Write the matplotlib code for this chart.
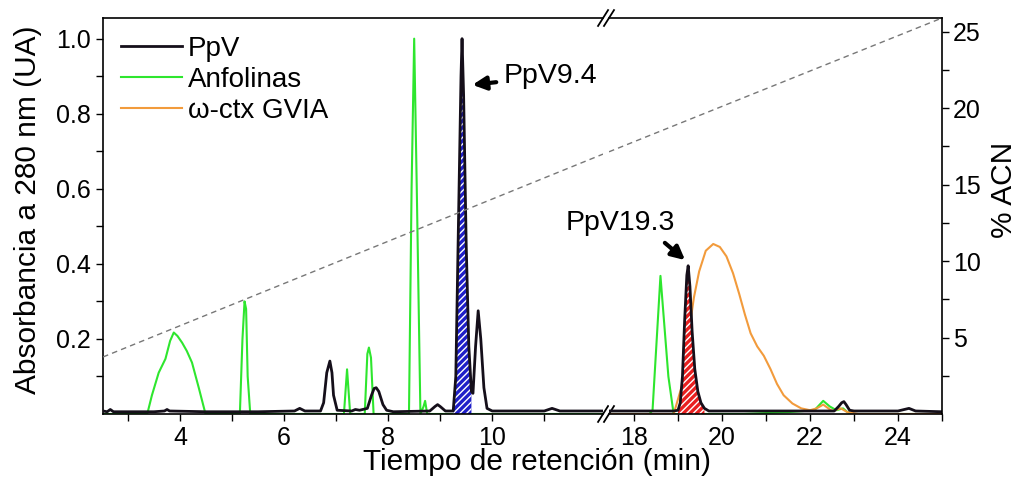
import numpy as np
import matplotlib
matplotlib.use("Agg")
import matplotlib.pyplot as plt
from matplotlib.ticker import FixedLocator

plt.rcParams['font.family'] = ['Liberation Sans', 'DejaVu Sans']

# PpV (tramo izquierdo y derecho del eje cortado)
ppv_t_izq = [2.52, 2.6, 2.66, 2.72, 2.8, 3.5, 3.7, 3.75, 3.8, 4.5, 5.5, 6.2, 6.3, 6.4, 6.7,
             6.76, 6.82, 6.88, 6.92, 6.95, 7.02, 7.3, 7.37, 7.45, 7.6, 7.68, 7.73, 7.77, 7.82,
             7.9, 7.97, 8.1, 8.8, 8.9, 8.95, 9.0, 9.1, 9.25, 9.3, 9.35, 9.4, 9.42, 9.45, 9.5,
             9.55, 9.6, 9.63, 9.68, 9.73, 9.78, 9.84, 9.9, 10.0, 11.0, 11.15, 11.3, 12.13]
ppv_a_izq = [0.008, 0.006, 0.012, 0.006, 0.006, 0.006, 0.008, 0.012, 0.008, 0.006, 0.006, 0.008, 0.015, 0.008, 0.008,
             0.03, 0.11, 0.141, 0.11, 0.05, 0.01, 0.008, 0.012, 0.01, 0.015, 0.05, 0.068, 0.07, 0.06,
             0.025, 0.01, 0.006, 0.008, 0.02, 0.025, 0.02, 0.008, 0.008, 0.1, 0.5, 0.9, 1.0, 0.85, 0.45,
             0.18, 0.06, 0.055, 0.18, 0.275, 0.2, 0.07, 0.015, 0.008, 0.008, 0.015, 0.008, 0.008]
ppv_t_der = [17.43, 18.0, 18.5, 18.9, 19.0, 19.05, 19.1, 19.15, 19.2, 19.23, 19.27, 19.32, 19.38, 19.45,
             19.52, 19.6, 19.7, 20.5, 22.0, 22.55, 22.65, 22.72, 22.77, 22.82, 22.9, 23.0, 24.0, 24.25,
             24.4, 25.0]
ppv_a_der = [0.008, 0.008, 0.008, 0.008, 0.01, 0.03, 0.1, 0.25, 0.37, 0.395, 0.34, 0.22, 0.12, 0.06,
             0.03, 0.015, 0.008, 0.008, 0.008, 0.008, 0.02, 0.03, 0.033, 0.025, 0.01, 0.008, 0.008, 0.015,
             0.008, 0.006]

# Anfolinas
anf_t_izq = [2.52, 3.37, 3.46, 3.59, 3.72, 3.81, 3.88, 3.95, 4.04, 4.13, 4.23, 4.36, 4.49, 5.15, 5.2,
             5.24, 5.27, 5.3, 5.35, 7.15, 7.21, 7.27, 7.55, 7.6, 7.63, 7.67, 7.72, 8.4, 8.45, 8.5,
             8.55, 8.62, 8.68, 8.71, 8.75, 12.13]
anf_a_izq = [0.0, 0.0, 0.05, 0.11, 0.147, 0.195, 0.217, 0.208, 0.19, 0.168, 0.137, 0.07, 0.0, 0.0, 0.2,
             0.3, 0.28, 0.1, 0.0, 0.0, 0.119, 0.0, 0.0, 0.16, 0.177, 0.15, 0.0, 0.0, 0.6, 1.0,
             0.6, 0.0, 0.02, 0.035, 0.0, 0.0]
anf_t_der = [17.43, 18.35, 18.42, 18.6, 18.78, 18.9, 20.5, 21.5, 22.1, 22.3, 22.45, 22.6, 22.75, 22.85, 23.0, 25.0]
anf_a_der = [0.0, 0.0, 0.01, 0.368, 0.1, 0.0, 0.0, 0.005, 0.01, 0.035, 0.02, 0.01, 0.015, 0.005, 0.0, 0.0]

# omega-ctx GVIA
gvia_t = [17.43, 18.9, 19.1, 19.2, 19.36, 19.48, 19.63, 19.8, 19.95, 20.1, 20.25, 20.39, 20.52,
          20.65, 20.8, 20.95, 21.1, 21.25, 21.4, 21.6, 21.8, 22.0, 22.15, 22.3, 22.5, 22.7,
          22.85, 23.1, 25.0]
gvia_a = [0.0, 0.0, 0.08, 0.18, 0.31, 0.38, 0.435, 0.453, 0.445, 0.42, 0.375, 0.32, 0.265,
          0.215, 0.18, 0.155, 0.12, 0.08, 0.05, 0.028, 0.015, 0.01, 0.015, 0.025, 0.008, 0.015,
          0.005, 0.0, 0.0]

# gradiente de acetonitrilo
acn_t_izq = [2.52, 12.13]
acn_izq = [3.73, 17.0]
acn_t_der = [17.43, 25.0]
acn_der = [17.15, 25.9]

negro = '#150f1a'
verde = '#2ee62e'
naranja = '#f29b3c'
gris = '#777777'

fig = plt.figure(figsize=(10.23, 4.87), dpi=100)
ax1 = fig.add_axes([0.1007, 0.1499, 0.4888, 0.8131])
ax2 = fig.add_axes([0.5953, 0.1499, 0.3255, 0.8131])

ax1.set_xlim(2.52, 12.13)
ax2.set_xlim(17.43, 25.0)
ax1.xaxis.set_major_locator(FixedLocator([4, 6, 8, 10]))
ax1.xaxis.set_minor_locator(FixedLocator([3, 5, 7, 9, 11]))
ax2.xaxis.set_major_locator(FixedLocator([18, 20, 22, 24]))
ax2.xaxis.set_minor_locator(FixedLocator([19, 21, 23, 25]))
ax1.set_yticks([0.2, 0.4, 0.6, 0.8, 1.0])
ax1.set_yticklabels(['0.2', '0.4', '0.6', '0.8', '1.0'])
ax1.yaxis.set_minor_locator(FixedLocator([0.1, 0.3, 0.5, 0.7, 0.9]))

# curvas
ax1.plot(anf_t_izq, anf_a_izq, color=verde, lw=1.5, label='Anfolinas', zorder=2)
ax1.plot(ppv_t_izq, ppv_a_izq, color=negro, lw=2, label='PpV', zorder=3)
ax2.plot(anf_t_der, anf_a_der, color=verde, lw=1.5, zorder=2)
ax2.plot(gvia_t, gvia_a, color=naranja, lw=1.5, zorder=2)
ax2.plot(ppv_t_der, ppv_a_der, color=negro, lw=2, zorder=3)

# areas rayadas bajo los picos
t1 = np.array(ppv_t_izq)
a1 = np.array(ppv_a_izq)
m1 = (t1 >= 9.25) & (t1 <= 9.62)
ax1.fill_between(t1[m1], 0, a1[m1], facecolor='#1f1fc8', edgecolor='white', hatch='/////', lw=0, zorder=2.5)
t2 = np.array(ppv_t_der)
a2 = np.array(ppv_a_der)
m2 = (t2 >= 19.0) & (t2 <= 19.62)
ax2.fill_between(t2[m2], 0, a2[m2], facecolor='#e82020', edgecolor='white', hatch='/////', lw=0, zorder=2.5)

# eje derecho % ACN
tw1 = ax1.twinx()
tw2 = ax2.twinx()
for tw in (tw1, tw2):
    tw.set_ylim(0, 25.9)
    for s in tw.spines.values():
        s.set_visible(False)
tw1.set_yticks([])
tw1.plot(acn_t_izq, acn_izq, color=gris, lw=1, ls=(0, (4, 3)))
tw2.plot(acn_t_der, acn_der, color=gris, lw=1, ls=(0, (4, 3)))
tw2.spines['right'].set_visible(True)
tw2.spines['right'].set_linewidth(1.2)
tw2.set_yticks([5, 10, 15, 20, 25])
tw2.yaxis.set_minor_locator(FixedLocator([2.5, 7.5, 12.5, 17.5, 22.5]))
tw2.tick_params(direction='out', labelsize=18, length=5, width=1, pad=3)
tw2.tick_params(which='minor', direction='out', length=5, width=1)

# estilo de ejes (despues de twinx, que reactiva los ticks)
for ax in (ax1, ax2):
    ax.set_ylim(0, 1.055)
    ax.tick_params(direction='out', labelsize=18, length=5, width=1, pad=4)
    ax.tick_params(which='minor', direction='out', length=5, width=1)
    for s in ax.spines.values():
        s.set_linewidth(1.2)
ax1.spines['right'].set_visible(False)
ax1.tick_params(right=False, which='both')
ax2.spines['left'].set_visible(False)
ax2.spines['right'].set_visible(False)
ax2.tick_params(left=False, labelleft=False, right=False, which='both')

# leyenda
ax1.plot([], [], color=naranja, lw=1.5, label='\u03c9-ctx GVIA')
hs, ls_ = ax1.get_legend_handles_labels()
orden = [ls_.index('PpV'), ls_.index('Anfolinas'), ls_.index('\u03c9-ctx GVIA')]
ax1.legend([hs[i] for i in orden], [ls_[i] for i in orden], loc='upper left', frameon=False,
           fontsize=20, handlelength=2.2, handletextpad=0.2, labelspacing=0.18,
           borderpad=0, borderaxespad=0, bbox_to_anchor=(0.036, 0.955))

# anotaciones
ax1.annotate('PpV9.4', xy=(9.62, 0.877), xytext=(10.21, 0.90), fontsize=20.5, va='center', ha='left',
             arrowprops=dict(arrowstyle='-|>', color='black', lw=3, mutation_scale=20,
                             shrinkA=3, shrinkB=0))
ax2.annotate('PpV19.3', xy=(19.16, 0.41), xytext=(17.68, 0.509), fontsize=20.5, va='center', ha='center',
             annotation_clip=False)
ax2.annotate('', xy=(19.16, 0.41), xytext=(18.7, 0.456), annotation_clip=False,
             arrowprops=dict(arrowstyle='-|>', color='black', lw=3, mutation_scale=20,
                             shrinkA=0, shrinkB=0))

# marcas de corte
for ax, x0, w in ((ax1, 1.0, 0.02), (ax2, 0.0, 0.02 * 0.4888 / 0.3255)):
    for y0 in (0.0, 1.0):
        ax.plot([x0 - w / 2, x0 + w / 2], [y0 - 0.02, y0 + 0.02], transform=ax.transAxes,
                color='black', lw=1.3, clip_on=False)

# titulos de ejes
fig.text(28 / 1023, 1 - 210 / 487, 'Absorbancia a 280 nm (UA)', fontsize=21.5, rotation=90,
         ha='center', va='center')
fig.text(1004 / 1023, 1 - 190 / 487, '% ACN', fontsize=21.5, rotation=90, ha='center', va='center')
fig.text(0.525, 0.051, 'Tiempo de retención (min)', fontsize=21.5, ha='center', va='center')

fig.savefig('out.png', dpi=100)
